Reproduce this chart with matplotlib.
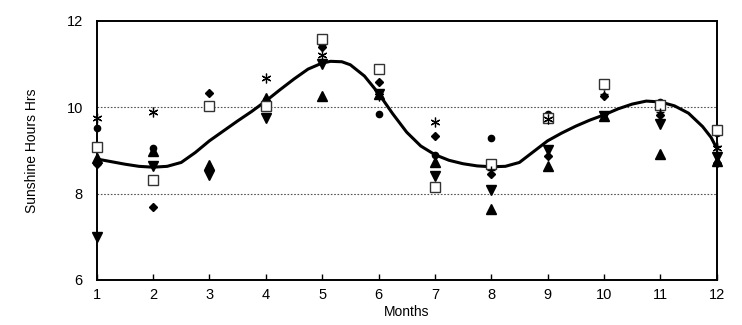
import numpy as np
import matplotlib; matplotlib.use('Agg')
import matplotlib.pyplot as plt

plt.rcParams['font.family'] = ['Liberation Sans', 'DejaVu Sans']

MONTHS = np.arange(1, 13)
nan = np.nan
# scatter series (hours of sunshine)
CIRCLE  = [9.52, 9.05, 8.58, 10.17, 11.44, 9.84, 8.89, 9.28, 9.84, 10.50, 10.12, 9.40]
DIAMOND = [8.68, 7.69, 10.33, 10.15, 11.38, 10.58, 9.33, 8.45, 8.88, 10.26, 9.82, 8.70]
UP_TRI  = [8.82, 8.98, 8.65, 10.20, 10.26, 10.30, 8.73, 7.64, 8.63, 9.80, 8.91, 8.75]
DN_TRI  = [7.00, 8.64, 8.42, 9.75, 11.00, 10.30, 8.40, 8.08, 9.00, 9.80, 9.60, 8.84]
SQUARE  = [9.08, 8.31, 10.03, 10.03, 11.58, 10.88, 8.15, 8.68, 9.75, 10.54, 10.05, 9.47]
STAR    = [9.75, 9.88, nan, 10.67, 11.20, 10.25, 9.65, nan, 9.72, nan, nan, 9.05]
PLUS    = [nan, nan, nan, nan, nan, nan, nan, 8.55, nan, 10.30, 9.88, 9.10]

# fitted curve, points
CURVE_X = [1.0, 1.25, 1.5, 1.75, 2.0, 2.25, 2.5, 2.75, 3.0, 3.25, 3.5, 3.75, 4.0,
           4.25, 4.5, 4.75, 5.0, 5.15, 5.35, 5.5, 5.75, 6.0, 6.25, 6.5, 6.75, 7.0,
           7.25, 7.5, 7.75, 8.0, 8.25, 8.5, 8.75, 9.0, 9.25, 9.5, 9.75, 10.0, 10.25,
           10.5, 10.75, 11.0, 11.25, 11.5, 11.75, 11.9, 12.0]
CURVE_Y = [8.80, 8.74, 8.68, 8.63, 8.61, 8.63, 8.72, 8.95, 9.22, 9.45, 9.68, 9.90, 10.14,
           10.40, 10.65, 10.88, 11.02, 11.06, 11.05, 10.98, 10.72, 10.32, 9.85, 9.42, 9.10, 8.90,
           8.77, 8.69, 8.64, 8.62, 8.63, 8.72, 8.97, 9.22, 9.40, 9.56, 9.70, 9.82, 9.96,
           10.07, 10.14, 10.12, 10.03, 9.86, 9.55, 9.30, 9.05]

fig = plt.figure(figsize=(7.42, 3.25), dpi=100)
ax = fig.add_axes([0.1303, 0.1385, 0.8356, 0.7978])

ax.axhline(8, color='#555555', lw=0.8, ls=(0, (1.5, 1.5)), zorder=1)
ax.axhline(10, color='#555555', lw=0.8, ls=(0, (1.5, 1.5)), zorder=1)

ax.plot(CURVE_X, CURVE_Y, color='black', lw=2.2, zorder=2, solid_joinstyle='round')

kw = dict(ls='none', color='black', zorder=3, clip_on=False)
ax.plot(MONTHS, UP_TRI, marker='^', ms=6.5, **kw)
ax.plot(MONTHS, DN_TRI, marker='v', ms=6.5, **kw)
ax.plot(MONTHS, DIAMOND, marker='D', ms=4.5, **kw)
ax.plot(MONTHS, CIRCLE, marker='o', ms=4.5, **kw)
ax.plot(MONTHS, SQUARE, marker='s', ms=7, mfc='white', mec='#333333', mew=1.0,
        ls='none', zorder=3, clip_on=False)
ax.plot(MONTHS, STAR, marker=(6, 2, 0), ms=7, mew=0.9, **kw)
ax.plot(MONTHS, PLUS, marker='+', ms=6, mew=1.0, **kw)

ax.set_xlim(1, 12)
ax.set_ylim(6, 12)
ax.set_xticks(MONTHS)
ax.set_yticks([6, 8, 10, 12])
ax.tick_params(axis='x', direction='in', length=4, width=1.0, labelsize=10.5, pad=6)
ax.tick_params(axis='y', length=0, labelsize=10.5, pad=10)
for s in ax.spines.values():
    s.set_linewidth(1.4)

ax.set_xlabel('Months', fontsize=10, labelpad=2)
ax.set_ylabel('Sunshine Hours Hrs', fontsize=10, labelpad=20)

fig.savefig('out.png', dpi=100)
